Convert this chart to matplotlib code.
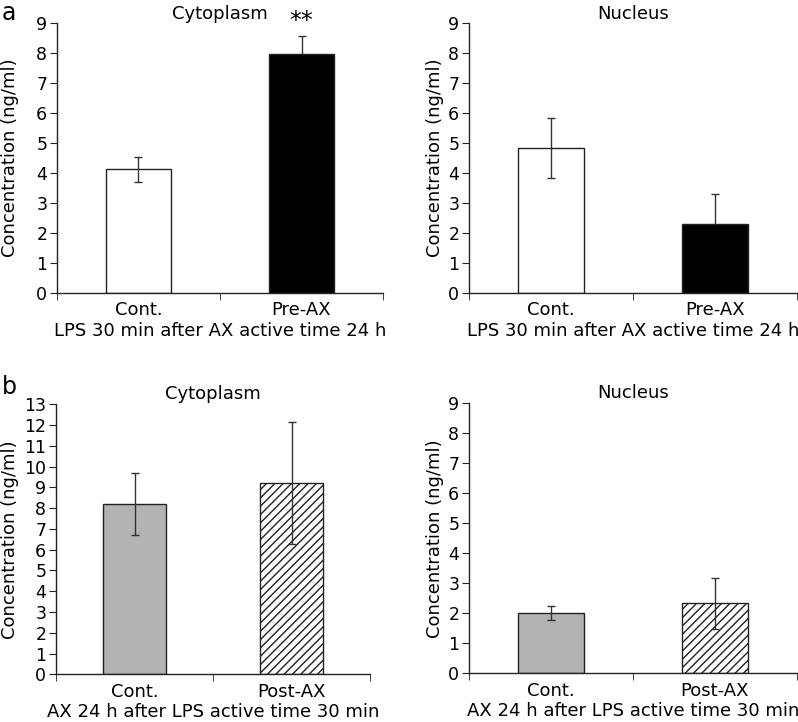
import matplotlib
matplotlib.use("Agg")
import matplotlib.pyplot as plt
import numpy as np

plt.rcParams['font.family'] = ['DejaVu Sans']
plt.rcParams['hatch.linewidth'] = 1.0

# Data
cats_a = ["Cont.", "Pre-AX"]
cats_b = ["Cont.", "Post-AX"]
a_cyto = [4.12, 7.96]
a_cyto_err = [0.43, 0.60]
a_nuc = [4.83, 2.30]
a_nuc_err = [1.0, 1.0]
b_cyto = [8.20, 9.20]
b_cyto_err = [1.48, 2.93]
b_nuc = [2.00, 2.33]
b_nuc_err = [0.24, 0.85]
xlabel_a = "LPS 30 min after AX active time 24 h"
xlabel_b = "AX 24 h after LPS active time 30 min"
ylabel = "Concentration (ng/ml)"

fig = plt.figure(figsize=(7.98, 7.22), dpi=100)

FS = 13
TFS = 12.5
EC = "#222222"

def panel(rect, cats, vals, errs, fills, hatches, ymax, title, xlabel, title_pad, ylpad):
    ax = fig.add_axes(rect)
    x = np.arange(len(cats))
    for xi, v, e, fc, h in zip(x, vals, errs, fills, hatches):
        ax.bar(xi, v, width=0.4, color=fc, edgecolor=EC, linewidth=1.0, hatch=h, zorder=2)
        ez = 1 if fc == "black" else 3
        ax.errorbar(xi, v, yerr=e, fmt='none', ecolor="#333333", elinewidth=1.0,
                    capsize=3, capthick=1.0, zorder=ez)
    ax.set_xlim(-0.5, len(cats) - 0.5)
    ax.set_ylim(0, ymax)
    ax.set_yticks(np.arange(0, ymax + 1, 1))
    ax.set_xticks(x)
    ax.set_xticklabels(cats, fontsize=FS)
    ax.set_xticks(np.arange(-0.5, len(cats), 1), minor=True)
    ax.tick_params(axis='x', which='major', length=0, pad=6)
    ax.tick_params(axis='x', which='minor', length=5, direction='out', color=EC)
    ax.tick_params(axis='y', length=5, direction='out', labelsize=TFS, pad=2, color=EC)
    for s in ['top', 'right']:
        ax.spines[s].set_visible(False)
    for s in ['left', 'bottom']:
        ax.spines[s].set_color(EC)
        ax.spines[s].set_linewidth(1.0)
    ax.set_title(title, fontsize=FS, pad=title_pad)
    ax.set_xlabel(xlabel, fontsize=FS, labelpad=2)
    ax.set_ylabel(ylabel, fontsize=FS, labelpad=ylpad)
    return ax

ax1 = panel([0.0714, 0.5942, 0.4086, 0.3738], cats_a, a_cyto, a_cyto_err,
            ["white", "black"], [None, None], 9, "Cytoplasm", xlabel_a, 1, 12)
ax1.text(1, 8.68, "**", ha='center', va='bottom', fontsize=17)
ax2 = panel([0.5877, 0.5942, 0.411, 0.3738], cats_a, a_nuc, a_nuc_err,
            ["white", "black"], [None, None], 9, "Nucleus", xlabel_a, 1, 3)
ax3 = panel([0.0702, 0.0661, 0.3935, 0.3739], cats_b, b_cyto, b_cyto_err,
            ["#b3b3b3", "white"], [None, "////"], 13, "Cytoplasm", xlabel_b, 4, 4)
ax4 = panel([0.5877, 0.0675, 0.411, 0.3739], cats_b, b_nuc, b_nuc_err,
            ["#b3b3b3", "white"], [None, "////"], 9, "Nucleus", xlabel_b, 4, 3)

fig.text(0.002, 0.998, "a", fontsize=17, ha='left', va='top')
fig.text(0.002, 0.480, "b", fontsize=17, ha='left', va='top')

fig.savefig("out.png", dpi=100)
